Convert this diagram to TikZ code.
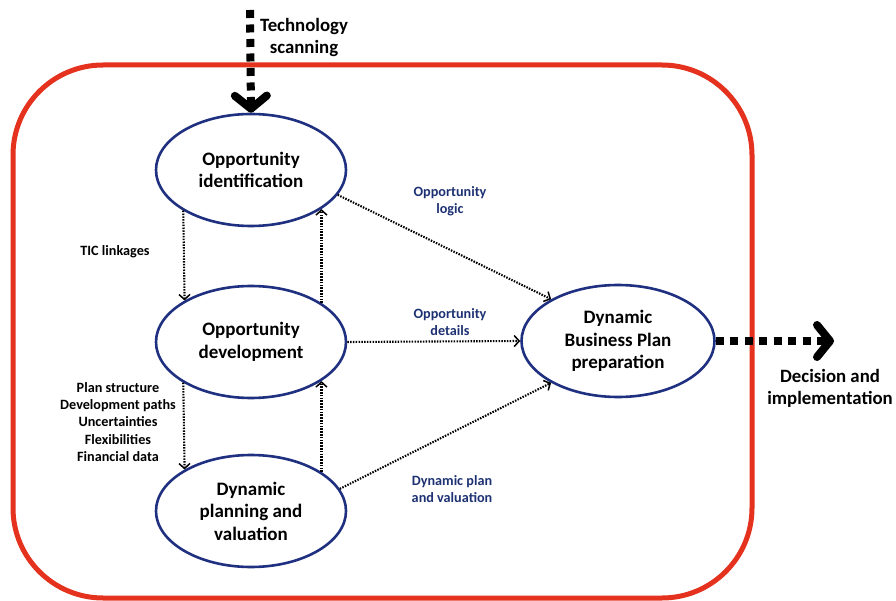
\documentclass[tikz,border=0pt]{standalone}
\usepackage{fontspec}
\setmainfont{Carlito}
\usetikzlibrary{shapes.geometric,arrows.meta}
\definecolor{boxred}{RGB}{228,50,30}
\definecolor{ovalblue}{RGB}{32,48,128}
\definecolor{labelblue}{RGB}{30,50,115}
\tikzset{
  oval/.style={ellipse, draw=ovalblue, line width=2.6pt, minimum width=190pt,
    minimum height=112pt, inner sep=0pt, align=center,
    font=\fontsize{19}{22.5}\selectfont\bfseries},
  biglabel/.style={align=center, font=\fontsize{18.8}{22}\selectfont\bfseries},
  smalllabel/.style={align=center, font=\fontsize{14.2}{17.3}\selectfont\bfseries},
  flowlabel/.style={smalllabel, text=labelblue},
  dotarrow/.style={line width=2.1pt, dash pattern=on 1.5pt off 1.3pt,
    -{Straight Barb[length=5pt,width=11pt,line width=1.5pt]}},
  bigarrow/.style={line width=8pt, dash pattern=on 8pt off 6.5pt,
    -{Straight Barb[length=13pt,width=32pt,line width=8pt,round]}}
}
\begin{document}
\begin{tikzpicture}[x=1pt,y=-1pt]
\useasboundingbox (0,0) rectangle (896,601);
\fill[white] (0,0) rectangle (896,601);

% enclosing frame
\draw[boxred, line width=5pt, rounded corners=90pt] (13,65) rectangle (752,598);

% process ovals
\node[oval] (oi) at (251,170) {Opportunity\\identification};
\node[oval] (od) at (251,342) {Opportunity\\development};
\node[oval] (dp) at (251,511) {Dynamic\\planning and\\valuation};
\node[oval, minimum width=193pt] (dbp) at (618,341) {Dynamic\\Business Plan\\preparation};

% outside inputs and outputs
\coordinate (ts) at (250,10);
\coordinate (di) at (834,341);
\draw[bigarrow] (ts) -- (oi.north);
\draw[bigarrow] (dbp.east) -- (di);
\node[biglabel] (tsl) at (304,38) {Technology\\scanning};
\node[biglabel] (dil) at (830,388) {Decision and\\implementation};

% feedback between the ovals
\draw[dotarrow] (oi.211.2) -- (od.148.8);
\draw[dotarrow] (od.29.2) -- (oi.-29.2);
\draw[dotarrow] (od.211.2) -- (dp.148.8);
\draw[dotarrow] (dp.29.2) -- (od.-29.2);

% flows into the business plan
\draw[dotarrow] (oi.-16) -- (dbp.148);
\draw[dotarrow] (od.east) -- (dbp.west);
\draw[dotarrow] (dp.14) -- (dbp.212);

% labels
\node[smalllabel] (tic) at (115,252) {TIC linkages};
\node[smalllabel] (plan) at (118,422) {Plan structure\\Development paths\\Uncertainties\\Flexibilities\\Financial data};
\node[flowlabel] (logic) at (450,201) {Opportunity\\logic};
\node[flowlabel] (details) at (450,322) {Opportunity\\details};
\node[flowlabel] (valuation) at (452,489) {Dynamic plan\\and valuation};
\end{tikzpicture}
\end{document}
